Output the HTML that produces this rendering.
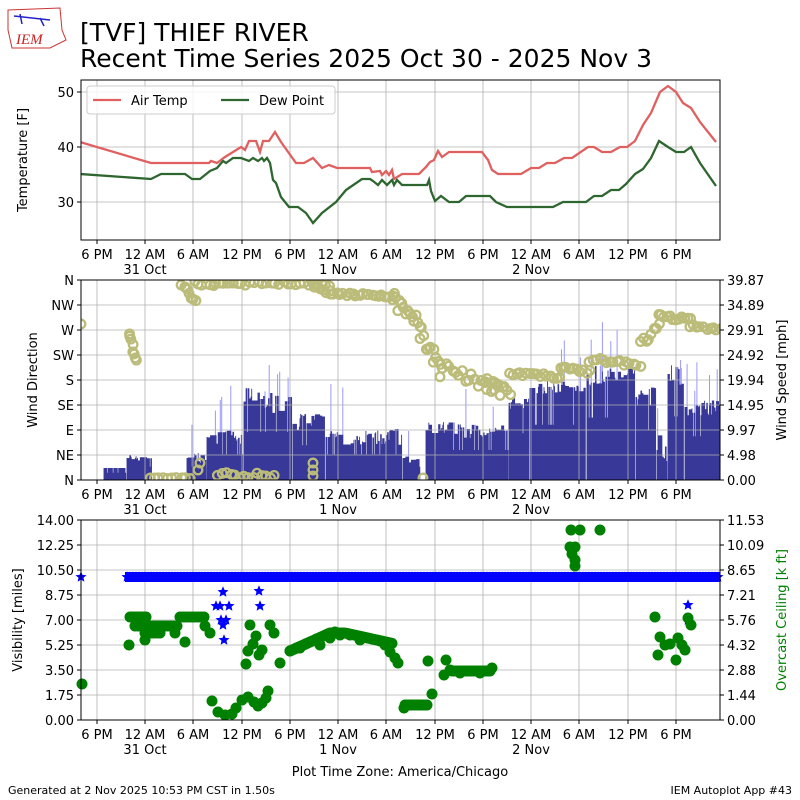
<!DOCTYPE html>
<html><head><meta charset="utf-8"><style>
body{margin:0;background:#fff}
svg{display:block;font-family:"DejaVu Sans","Liberation Sans",sans-serif}
</style></head><body>
<svg id="s" width="800" height="800" xmlns="http://www.w3.org/2000/svg">
<rect width="800" height="800" fill="#fff"/>
<g id="logo">
<path d="M8 10 L60 8 L62 30 L66 40 L50 48 L12 48 L8 30 Z" fill="none" stroke="#c33" stroke-width="1"/>
<text x="16" y="44" font-family="Liberation Serif,serif" font-style="italic" font-size="15" fill="#c22">IEM</text>
<path d="M14 16 L50 20 M20 14 L22 24 M40 18 L44 26" stroke="#22c" stroke-width="1.5"/>
</g>
<text x="80" y="41" font-size="25">[TVF] THIEF RIVER</text>
<text x="80" y="67" font-size="25">Recent Time Series 2025 Oct 30 - 2025 Nov 3</text>
<g id="g"></g>
<text x="8" y="794" font-size="11">Generated at 2 Nov 2025 10:53 PM CST in 1.50s</text>
<text x="792" y="794" font-size="11" text-anchor="end">IEM Autoplot App #43</text>
</svg>
<script>
const g=document.getElementById('g');let h='';
const X0=81,X1=720;
const xt=[97,145,193,242,290,338,386,435,483,531,579,628,676];
const xl=['6 PM','12 AM','6 AM','12 PM','6 PM','12 AM','6 AM','12 PM','6 PM','12 AM','6 AM','12 PM','6 PM'];
function grid(t,b,ys){
 xt.forEach(x=>h+=`<line x1="${x}" y1="${t}" x2="${x}" y2="${b}" stroke="#b0b0b0" stroke-width="0.8"/>`);
 ys.forEach(y=>h+=`<line x1="${X0}" y1="${y}" x2="${X1}" y2="${y}" stroke="#b0b0b0" stroke-width="0.8"/>`);
}
function frame(t,b){
 h+=`<rect x="${X0}" y="${t}" width="${X1-X0}" height="${b-t}" fill="none" stroke="#000" stroke-width="1"/>`;
 xt.forEach((x,i)=>{h+=`<line x1="${x}" y1="${b}" x2="${x}" y2="${b+4}" stroke="#000"/><text x="${x}" y="${b+19}" font-size="13" text-anchor="middle">${xl[i]}</text>`});
 [[145,'31 Oct'],[338,'1 Nov'],[531,'2 Nov']].forEach(([x,s])=>h+=`<text x="${x}" y="${b+34}" font-size="13" text-anchor="middle">${s}</text>`);
}
function lt(y,s){h+=`<line x1="${X0-4}" y1="${y}" x2="${X0}" y2="${y}" stroke="#000"/><text x="${X0-7}" y="${y+5}" font-size="13" text-anchor="end">${s}</text>`}
function rt(y,s){h+=`<line x1="${X1}" y1="${y}" x2="${X1+4}" y2="${y}" stroke="#000"/><text x="${X1+7}" y="${y+5}" font-size="13">${s}</text>`}
grid(80,240,[92,147,202]);
const T=[[80,142],[151,163],[209,163],[211,161],[217,163],[225,157],[241,147],[245,150],[249,141],[256,141],[260,152],[263,141],[269,141],[275,132],[281,142],[296,163],[304,163],[313,158],[322,168],[329,165],[337,168],[370,168],[372,172],[380,171],[382,175],[386,171],[389,175],[392,170],[394,179],[402,174],[419,174],[426,167],[430,162],[434,160],[438,151],[442,157],[449,152],[482,152],[488,160],[492,170],[498,174],[521,174],[531,168],[539,168],[547,163],[555,163],[564,158],[572,158],[588,147],[594,147],[602,152],[611,152],[620,147],[627,147],[635,141],[643,125],[651,113],[660,92],[668,86],[676,92],[683,103],[691,108],[700,122],[716,142]];
const D=[[80,174],[151,179],[161,174],[185,174],[192,179],[200,179],[210,171],[217,168],[223,161],[226,163],[233,158],[241,158],[249,161],[253,158],[258,161],[262,158],[264,161],[267,158],[270,163],[273,180],[276,183],[281,197],[289,207],[298,207],[306,213],[313,223],[322,213],[336,202],[346,190],[362,179],[370,179],[373,181],[378,185],[382,180],[387,185],[392,180],[394,185],[397,180],[402,185],[427,185],[429,180],[431,191],[435,201],[441,196],[449,202],[459,202],[466,196],[490,196],[496,202],[507,207],[553,207],[563,202],[586,202],[594,196],[602,196],[611,190],[619,190],[626,184],[635,174],[643,169],[651,158],[659,141],[668,147],[676,152],[684,152],[691,147],[700,163],[716,186]];
h+=`<clipPath id="c1"><rect x="81" y="80" width="639" height="160"/></clipPath><g clip-path="url(#c1)">`;
h+=`<polyline points="${T.join(' ')}" fill="none" stroke="#e06060" stroke-width="2.3"/>`;
h+=`<polyline points="${D.join(' ')}" fill="none" stroke="#2e6630" stroke-width="2.3"/></g>`;
frame(80,240);
lt(92,'50');lt(147,'40');lt(202,'30');
h+=`<text transform="translate(27,160) rotate(-90)" font-size="13" text-anchor="middle">Temperature [F]</text>`;
h+=`<rect x="87" y="86" width="248" height="28" rx="3" fill="#fff" fill-opacity="0.85" stroke="#ccc"/>`;
h+=`<line x1="93" y1="100" x2="121" y2="100" stroke="#e06060" stroke-width="2.3"/><text x="131" y="105" font-size="13">Air Temp</text>`;
h+=`<line x1="221" y1="100" x2="249" y2="100" stroke="#2e6630" stroke-width="2.3"/><text x="259" y="105" font-size="13">Dew Point</text>`;
let r=1;function rnd(){r=(r*16807)%2147483647;return r/2147483647}
const env=[[104,126,468,0],[127,152,458,6],[153,186,480,0],[187,206,458,10],[207,243,437,14],[244,292,400,26],[293,325,422,18],[326,402,437,16],[403,420,458,14],[421,425,480,0],[426,508,430,16],[509,529,402,14],[530,586,388,14],[587,635,376,20],[636,656,397,24],[657,667,450,30],[668,684,374,24],[685,720,407,18]];
h+=`<clipPath id="c2"><rect x="81" y="280" width="639" height="200"/></clipPath><g clip-path="url(#c2)">`;
let bars='',gust='';
env.forEach(([a,b,y,v])=>{let cur=y;for(let x=a;x<=b;x+=0.7){if(y>=480)continue;
 if(rnd()<0.35)cur=y+(rnd()-0.5)*v;let yy=cur;if(rnd()<0.08)yy=480-(480-y)*0.6;
 if(rnd()<0.05&&v>8){let gy=yy-15-rnd()*35;gust+=`M${x} ${gy}V480`}
 bars+=`M${x.toFixed(1)} ${yy.toFixed(1)}V480`}});
h+=`<path d="${gust}" stroke="#9999ff" stroke-width="1"/><path d="${bars}" stroke="#383898" stroke-width="0.9"/></g>`;
grid(280,480,[305,330,355,380,405,430,455]);
let C=[[81,324]];
function tr(a,b,y1,y2,n,sc){for(let i=0;i<n;i++){let t=i/(n-1);C.push([a+(b-a)*t+(rnd()-0.5)*2,y1+(y2-y1)*t+(rnd()-0.5)*sc])}}
tr(129,137,333,362,8,6);tr(182,195,285,298,8,8);tr(195,245,283,285,15,4);tr(250,330,282,285,20,3);tr(315,330,288,292,6,4);
tr(330,392,294,296,20,3);tr(392,420,298,325,15,14);tr(420,440,330,368,12,18);tr(440,500,365,392,20,12);tr(485,510,380,392,10,6);
tr(510,560,373,377,16,4);tr(560,590,366,372,10,4);tr(590,640,360,364,16,5);tr(640,660,345,325,8,12);tr(658,690,316,320,12,4);tr(690,720,326,330,10,3);
tr(150,190,478,478,10,1);tr(218,275,475,476,14,5);C.push([198,470],[200,463],[313,463],[313,470],[313,476],[423,478]);
h+=`<g clip-path="url(#c2)" fill="none" stroke="#bcbc7a" stroke-width="2.3">`;C.forEach(([x,y])=>h+=`<circle cx="${x.toFixed(1)}" cy="${y.toFixed(1)}" r="4.3"/>`);h+=`</g>`;
frame(280,480);
['N','NW','W','SW','S','SE','E','NE','N'].forEach((s,i)=>lt(280+i*25,s));
['39.87','34.89','29.91','24.92','19.94','14.95','9.97','4.98','0.00'].forEach((s,i)=>rt(280+i*25,s));
h+=`<text transform="translate(37,380) rotate(-90)" font-size="13" text-anchor="middle">Wind Direction</text>`;
h+=`<text transform="translate(786,380) rotate(-90)" font-size="13" text-anchor="middle">Wind Speed [mph]</text>`;
grid(520,720,[545,570,595,620,645,670,695]);
h+=`<clipPath id="c3"><rect x="75" y="515" width="650" height="210"/></clipPath><g clip-path="url(#c3)">`;
const G=[[82,684],[129,645],[145,640],[175,633],[185,642],[205,626],[210,633],[212,701],[218,712],[225,715],[232,714],[236,708],[242,700],[248,697],[254,702],[258,706],[262,703],[266,698],[268,691],[246,664],[248,651],[253,644],[256,636],[250,625],[259,655],[262,650],[270,625],[274,633],[280,663],[290,651],[300,648],[320,645],[330,638],[335,632],[340,635],[350,635],[360,640],[380,641],[385,645],[390,652],[395,658],[398,663],[428,661],[404,708],[410,705],[420,705],[432,694],[446,660],[444,675],[450,670],[460,673],[480,673],[492,668],[571,530],[580,530],[600,530],[570,547],[575,547],[572,554],[575,560],[575,566],[655,617],[660,637],[658,655],[665,645],[670,644],[678,638],[682,645],[676,660],[685,650],[688,618],[691,625]];
for(let x=130;x<=146;x+=2)G.push([x,617]);for(let x=135;x<=178;x+=3)G.push([x,626]);for(let x=145;x<=160;x+=3)G.push([x,633]);for(let x=180;x<=206;x+=3)G.push([x,617]);
for(let x=290;x<=392;x+=2){let y=x<330?651-(x-290)*0.45:x<345?633:633+(x-345)*0.22;G.push([x,y])}
for(let x=452;x<=490;x+=2)G.push([x,671]);for(let x=405;x<=428;x+=2)G.push([x,705]);
let st='';
function star(x,y){let p=[];for(let i=0;i<10;i++){let a=-Math.PI/2+i*Math.PI/5,rr=i%2?2.6:5.8;p.push((x+rr*Math.cos(a)).toFixed(1)+','+(y+rr*Math.sin(a)).toFixed(1))}st+=`<polygon points="${p.join(' ')}"/>`}
star(81,577);h+=`<rect x="125" y="572" width="595" height="10" fill="#0000ff"/>`;
for(let x=127;x<=720;x+=3){star(x,577)}
[[216,606],[220,606],[229,606],[260,606],[221,620],[226,620],[223,625],[224,640],[688,605],[688,620],[223,592],[259,591]].forEach(p=>star(...p));
h+=`<g fill="#0000ff">${st}</g><g fill="#008000">`;G.forEach(([x,y])=>h+=`<circle cx="${x}" cy="${y}" r="5.5"/>`);h+=`</g></g>`;
frame(520,720);
['14.00','12.25','10.50','8.75','7.00','5.25','3.50','1.75','0.00'].forEach((s,i)=>lt(520+i*25,s));
['11.53','10.09','8.65','7.21','5.76','4.32','2.88','1.44','0.00'].forEach((s,i)=>rt(520+i*25,s));
h+=`<text transform="translate(22,620) rotate(-90)" font-size="13" text-anchor="middle">Visibility [miles]</text>`;
h+=`<text transform="translate(786,620) rotate(-90)" font-size="13" text-anchor="middle" fill="#008000">Overcast Ceiling [k ft]</text>`;
h+=`<text x="400" y="776" font-size="13" text-anchor="middle">Plot Time Zone: America/Chicago</text>`;
g.innerHTML=h;
</script>
</body></html>
